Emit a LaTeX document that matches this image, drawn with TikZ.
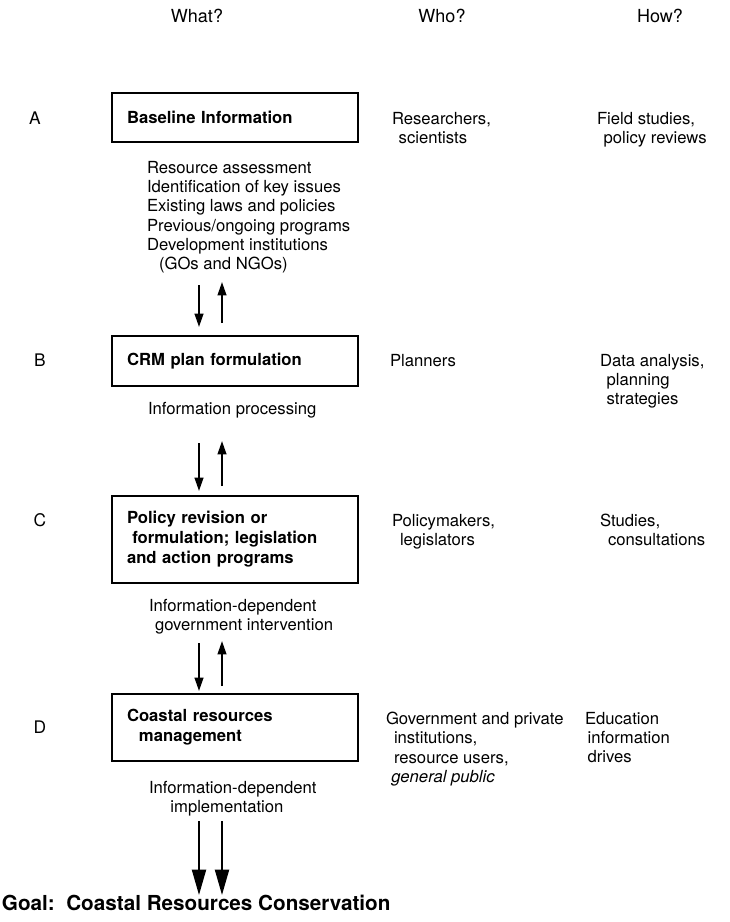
\documentclass[tikz,border=0pt]{standalone}
\usepackage{fontspec}
\setmainfont{TeX Gyre Heros}
\usetikzlibrary{arrows.meta}
\begin{document}
\begin{tikzpicture}[x=0.75pt,y=-0.75pt,
  every node/.style={inner sep=0pt,outer sep=0pt,font=\fontsize{12.5}{14.5}\selectfont},
  txt/.style={anchor=north west,align=left},
  line/.style={anchor=base west},
  head/.style={anchor=base,font=\fontsize{13.5}{15}\selectfont},
  rowlbl/.style={anchor=base,font=\fontsize{13}{15}\selectfont},
  stage/.style={draw,line width=1.1pt,anchor=north west,minimum width=246*0.75pt,
    text width=216*0.75pt,inner xsep=15*0.75pt,align=left,
    font=\fontsize{12.5}{15}\selectfont\bfseries},
  flow/.style={line width=1.5pt,-{Triangle[width=6.5pt,length=10pt]}},
  bigflow/.style={line width=1.5pt,-{Triangle[width=10.5pt,length=19pt]}}]
\useasboundingbox (0,0) rectangle (730,922);

% column headings
\node[head] (what) at (197,22) {What?};
\node[head] (who)  at (442,22) {Who?};
\node[head] (how)  at (660,22) {How?};

% row letters
\node[rowlbl] (rA) at (35,124) {A};
\node[rowlbl] (rB) at (40,366) {B};
\node[rowlbl] (rC) at (40,526) {C};
\node[rowlbl] (rD) at (40,733) {D};

% stages
\node[stage,minimum height=49*0.75pt] (sA) at (112,93)  {Baseline Information};
\node[stage,minimum height=50*0.75pt] (sB) at (112,336) {CRM plan formulation};
\node[stage,minimum height=87*0.75pt] (sC) at (112,496)
  {Policy revision or\\\hspace*{4pt}formulation; legislation\\and action programs};
\node[stage,minimum height=67*0.75pt] (sD) at (112,694)
  {Coastal resources\\\hspace*{9pt}management};

% information flowing out of each stage
\node[txt] (iA) at (147,161) {Resource assessment\\Identification of key issues\\Existing laws and policies\\Previous/ongoing programs\\Development institutions\\\hspace*{9pt}(GOs and NGOs)};
\node[line] (iB) at (148,414) {Information processing};
\node[txt] (iC) at (149,599) {Information-dependent\\\hspace*{4.5pt}government intervention};
\node[txt] (iD) at (149,781) {Information-dependent\\\hspace*{16pt}implementation};

% who
\node[txt] (wA) at (392,112) {Researchers,\\\hspace*{5pt}scientists};
\node[line] (wB) at (390,366) {Planners};
\node[txt] (wC) at (392,514) {Policymakers,\\\hspace*{6pt}legislators};
\node[txt] (wD) at (386,712) {Government and private\\\hspace*{6pt}institutions,\\\hspace*{6pt}resource users,\\\hspace*{4pt}\textit{general public}};

% how
\node[txt] (hA) at (597,112) {Field studies,\\\hspace*{5pt}policy reviews};
\node[txt] (hB) at (600,354) {Data analysis,\\\hspace*{5pt}planning\\\hspace*{5pt}strategies};
\node[txt] (hC) at (600,514) {Studies,\\\hspace*{6pt}consultations};
\node[txt] (hD) at (585,712) {Education\\\hspace*{2pt}information\\\hspace*{2pt}drives};

% goal
\node[anchor=base west,font=\fontsize{15.5}{17}\selectfont\bfseries] (goal) at (2,910)
  {Goal:\ \ Coastal Resources Conservation};

% two-way links between stages
\coordinate (ab1) at (199,285); \coordinate (ab2) at (199,327);
\coordinate (ab3) at (222,323); \coordinate (ab4) at (222,282);
\coordinate (bc1) at (199,443); \coordinate (bc2) at (199,491);
\coordinate (bc3) at (222,486); \coordinate (bc4) at (222,441);
\coordinate (cd1) at (199,643); \coordinate (cd2) at (199,691);
\coordinate (cd3) at (222,686); \coordinate (cd4) at (222,641);
\coordinate (dg1) at (199,821); \coordinate (dg2) at (199,895);
\coordinate (dg3) at (222,821); \coordinate (dg4) at (222,895);
\draw[flow] (ab1) -- (ab2);
\draw[flow] (ab3) -- (ab4);
\draw[flow] (bc1) -- (bc2);
\draw[flow] (bc3) -- (bc4);
\draw[flow] (cd1) -- (cd2);
\draw[flow] (cd3) -- (cd4);
\draw[bigflow] (dg1) -- (dg2);
\draw[bigflow] (dg3) -- (dg4);
\end{tikzpicture}
\end{document}
